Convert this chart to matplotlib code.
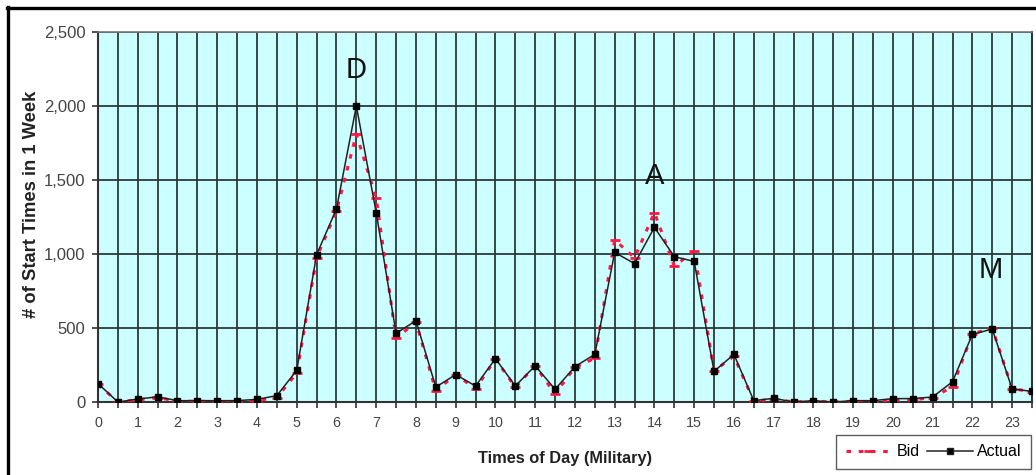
import matplotlib
matplotlib.use("Agg")
import matplotlib.pyplot as plt
from matplotlib.lines import Line2D
from matplotlib.ticker import FuncFormatter, MultipleLocator

# half-hour slots across the day
hours = [h / 2 for h in range(48)]

actual = [125, 0, 20, 35, 9, 9, 9, 9, 18, 43,
          214, 995, 1305, 2000, 1280, 464, 549, 101, 185, 108,
          293, 108, 245, 86, 239, 322, 1011, 935, 1180, 982,
          950, 207, 322, 9, 25, 0, 9, 0, 9, 9,
          23, 23, 34, 137, 457, 493, 88, 72]

bid = [120, 0, 15, 30, 5, 5, 3, 0, 10, 30,
       195, 975, 1290, 1810, 1375, 430, 540, 76, 185, 90,
       290, 100, 245, 54, 235, 295, 1095, 975, 1280, 918,
       1020, 210, 310, 5, 20, 0, 5, 0, 5, 0,
       15, 15, 30, 103, 460, 500, 90, 70]

peak_labels = ["D", "A", "M"]
peak_x = [6.5, 14.0, 22.45]
peak_y = [2245, 1525, 890]

plt.rcParams["font.family"] = ["Liberation Sans", "DejaVu Sans"]

fig = plt.figure(figsize=(10.36, 4.75), dpi=100)
ax = fig.add_axes([98 / 1036, 1 - 402 / 475, (1032 - 98) / 1036, (402 - 32) / 475])
ax.set_facecolor("#ccffff")

ax.plot(hours, bid, color="#ff1744", linestyle=(0, (1.5, 2.5)), linewidth=2.2,
        marker="_", markersize=7, markeredgewidth=2, zorder=3)
ax.plot(hours, actual, color="#222222", linewidth=1.1, marker="s", markersize=5,
        markerfacecolor="black", markeredgecolor="black", zorder=4)

for lab, x, y in zip(peak_labels, peak_x, peak_y):
    ax.text(x, y, lab, fontsize=21, ha="center", va="center", color="#111111")

ax.set_xlim(0, 23.5)
ax.set_ylim(0, 2500)
ax.xaxis.set_major_locator(MultipleLocator(1))
ax.xaxis.set_minor_locator(MultipleLocator(0.5))
ax.yaxis.set_major_locator(MultipleLocator(500))
ax.yaxis.set_major_formatter(FuncFormatter(lambda v, p: "{:,.0f}".format(v)))

ax.grid(which="both", axis="x", color="#2a3a3a", linewidth=1.3, zorder=1)
ax.grid(which="major", axis="y", color="#2a3a3a", linewidth=1.3, zorder=1)
ax.set_axisbelow(True)

ax.tick_params(axis="x", which="both", direction="out", length=4, width=1.2,
               color="#333333", labelsize=10.3, labelcolor="#444444", pad=6)
ax.tick_params(axis="y", direction="out", length=4, width=1.2, color="#333333",
               labelsize=12, labelcolor="#444444", pad=5)

for side in ["left", "bottom", "right"]:
    ax.spines[side].set_color("#333333")
    ax.spines[side].set_linewidth(1.5)
ax.spines["top"].set_color("#777777")
ax.spines["top"].set_linewidth(1.2)

ax.set_xlabel("Times of Day (Military)", fontsize=11.8, fontweight="bold", color="#222222")
ax.xaxis.set_label_coords(0.5, -0.133)
ax.set_ylabel("# of Start Times in 1 Week", fontsize=13.2, fontweight="bold", color="#222222")
ax.yaxis.set_label_coords(-0.062, 0.535)

handles = [
    Line2D([0], [0], color="#ff1744", linestyle=(0, (1.5, 2.5)), linewidth=2.2,
           marker="_", markersize=7, markeredgewidth=2),
    Line2D([0], [0], color="#222222", linewidth=1.1, marker="s", markersize=5,
           markerfacecolor="black"),
]
leg = fig.legend(handles, ["Bid", "Actual"], loc="lower right",
                 bbox_to_anchor=(1031 / 1036, 1 - 469 / 475), ncol=2,
                 fontsize=11.5, frameon=True, fancybox=False, shadow=False,
                 handlelength=2.9, handletextpad=0.25, columnspacing=0.45,
                 borderpad=0.6, borderaxespad=0)
leg.get_frame().set_edgecolor("#333333")
leg.get_frame().set_linewidth(1.0)

# outer frame around the picture, cut at right and bottom
fig.add_artist(Line2D([7 / 1036, 1.0], [1 - 8 / 475, 1 - 8 / 475],
                      color="black", linewidth=2.4, transform=fig.transFigure))
fig.add_artist(Line2D([8 / 1036, 8 / 1036], [0.0, 1 - 7 / 475],
                      color="black", linewidth=2.4, transform=fig.transFigure))

fig.savefig("out.png", dpi=100)
